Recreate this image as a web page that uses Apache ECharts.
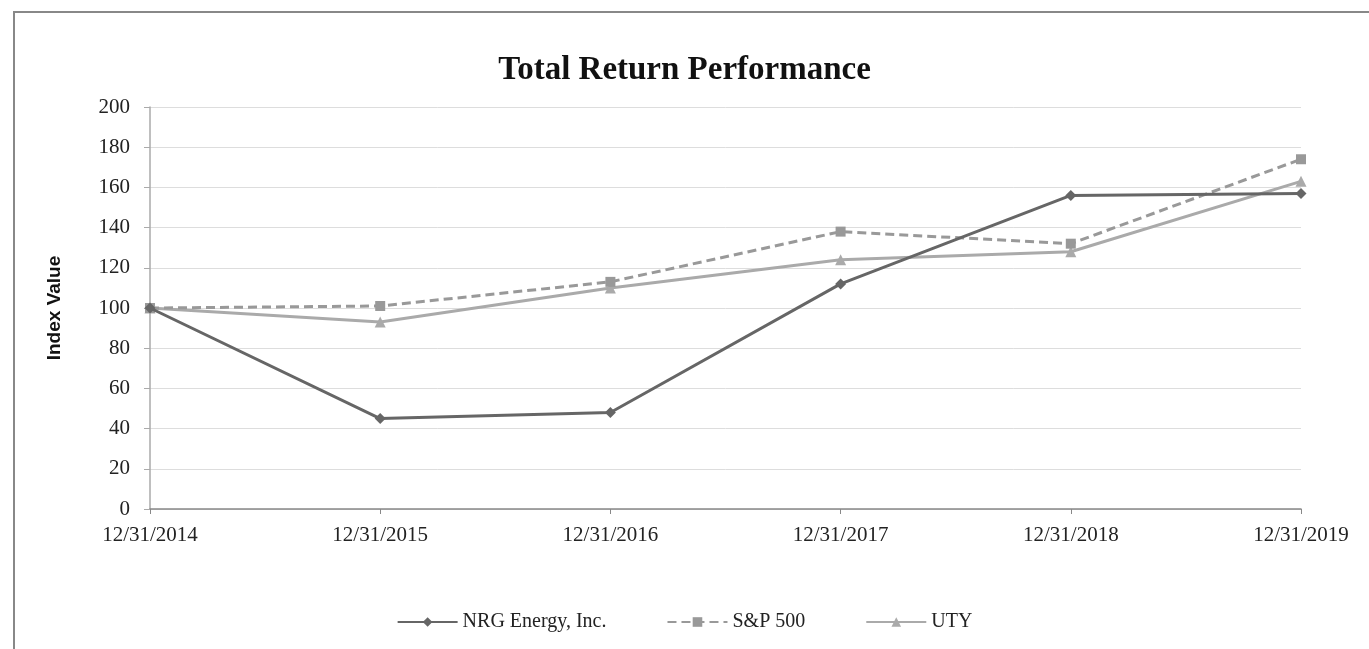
<!DOCTYPE html>
<html>
<head>
<meta charset="utf-8">
<script src="https://cdn.jsdelivr.net/npm/echarts@6/dist/echarts.min.js"></script>
<style>
  html, body { margin: 0; padding: 0; background: #fff; }
  #chart { width: 1369px; height: 649px; }
</style>
</head>
<body>
<div id="chart"></div>
<script>
const categories = ["12/31/2014", "12/31/2015", "12/31/2016", "12/31/2017", "12/31/2018", "12/31/2019"];
const nrg = [100, 45, 48, 112, 156, 157];
const sp500 = [100, 101, 113, 138, 132, 174];
const uty = [100, 93, 110, 124, 128, 163];

const serif = "'Liberation Serif', 'Times New Roman', serif";

const myChart = echarts.init(document.getElementById("chart"));
const option = {
  backgroundColor: "#fff",
  animation: false,
  title: {
    text: "Total Return Performance",
    left: "center",
    top: 49,
    textStyle: { fontFamily: serif, fontSize: 33, fontWeight: "bold", color: "#111" },
  },
  graphic: [
    {
      type: "polyline",
      shape: { points: [[14, 649], [14, 12], [1369, 12]] },
      style: { stroke: "#888", lineWidth: 2, fill: null },
    },
  ],
  legend: {
    bottom: 12,
    left: "center",
    itemWidth: 60,
    itemHeight: 12,
    itemGap: 60,
    textStyle: { fontFamily: serif, fontSize: 20, color: "#222" },
    data: ["NRG Energy, Inc.", "S&P 500", "UTY"],
  },
  grid: {
    left: 150,
    right: 68,
    top: 107,
    bottom: 140,
  },
  xAxis: {
    type: "category",
    data: categories,
    boundaryGap: false,
    axisLine: { lineStyle: { color: "#888", width: 1.5 } },
    axisTick: { show: true, alignWithLabel: true, length: 5, lineStyle: { color: "#888" } },
    axisLabel: { fontFamily: serif, fontSize: 21, color: "#222", margin: 16 },
  },
  yAxis: {
    type: "value",
    min: 0,
    max: 200,
    interval: 20,
    name: "Index Value",
    nameLocation: "middle",
    nameGap: 86,
    nameTextStyle: { fontFamily: "'Liberation Sans', Arial, sans-serif", fontSize: 19, fontWeight: "bold", color: "#111" },
    axisLine: { show: true, lineStyle: { color: "#aaa", width: 1.5 } },
    axisTick: { show: true, length: 6, lineStyle: { color: "#aaa" } },
    axisLabel: { fontFamily: serif, fontSize: 21, color: "#222", margin: 20 },
    splitLine: { lineStyle: { color: "#ddd", width: 1 } },
  },
  series: [
    {
      name: "NRG Energy, Inc.",
      type: "line",
      data: nrg,
      symbol: "diamond",
      symbolSize: 11,
      color: "#666",
      lineStyle: { color: "#666", width: 3 },
      itemStyle: { color: "#666" },
      z: 3,
    },
    {
      name: "S&P 500",
      type: "line",
      data: sp500,
      symbol: "rect",
      symbolSize: 10,
      color: "#999",
      lineStyle: { color: "#999", width: 3, type: [9, 5] },
      itemStyle: { color: "#999" },
      z: 2,
    },
    {
      name: "UTY",
      type: "line",
      data: uty,
      symbol: "triangle",
      symbolSize: 11,
      color: "#aaa",
      lineStyle: { color: "#aaa", width: 3 },
      itemStyle: { color: "#aaa" },
      z: 1,
    },
  ],
};
myChart.setOption(option);
window.addEventListener("resize", () => {
  myChart.resize();
});
</script>
</body>
</html>
